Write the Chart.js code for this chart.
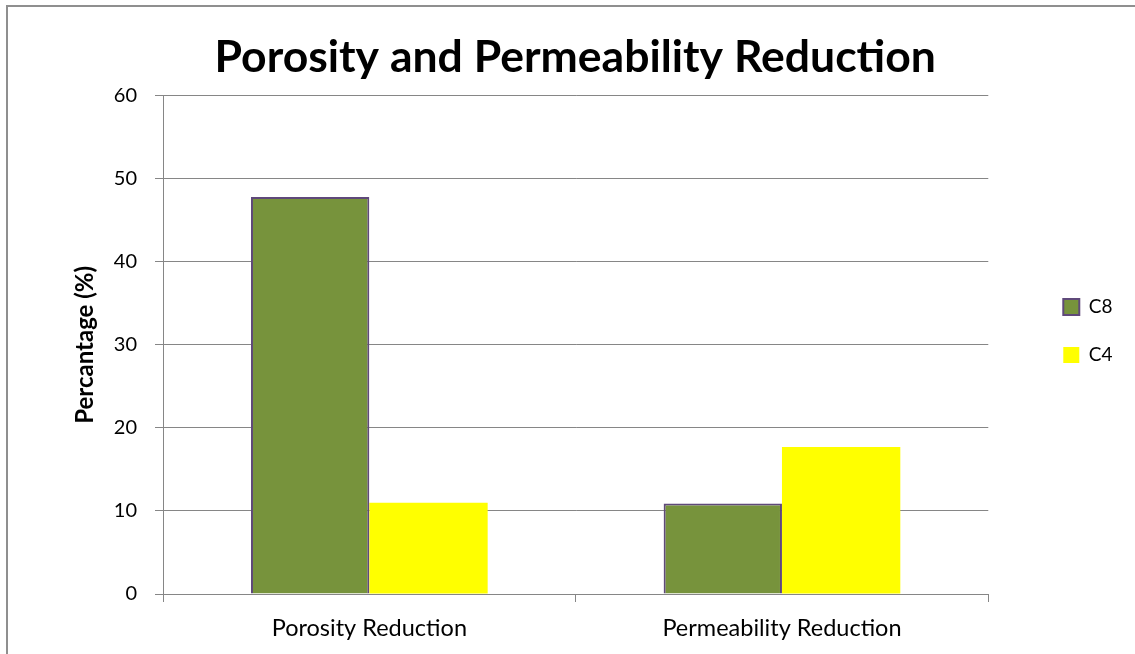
<!DOCTYPE html>
<html>
<head>
<meta charset="utf-8">
<title>Porosity and Permeability Reduction</title>
<script src="https://cdn.jsdelivr.net/npm/chart.js@4/dist/chart.umd.min.js"></script>
<style>
  html, body { margin: 0; padding: 0; background: #ffffff; overflow: hidden; }
  #wrap { position: relative; width: 1135px; height: 654px; }
</style>
</head>
<body>
<div id="wrap"><canvas id="chart" width="1135" height="654"></canvas></div>
<script>
// Categories and series
const categories = ['Porosity Reduction', 'Permeability Reduction'];
const seriesNames = ['C8', 'C4'];
const c8Values = [47.8, 10.9];
const c4Values = [11.0, 17.7];
const yTicks = [0, 10, 20, 30, 40, 50, 60];

const FONT = 'Lato, "Open Sans", "Liberation Sans", sans-serif';
const GRID = '#868686';

// White page with the thin gray frame on the left and top edges
const framePlugin = {
  id: 'frame',
  beforeDraw(chart) {
    const ctx = chart.ctx;
    ctx.save();
    ctx.fillStyle = '#ffffff';
    ctx.fillRect(0, 0, chart.width, chart.height);
    ctx.strokeStyle = '#8f8f8f';
    ctx.lineWidth = 2;
    ctx.beginPath();
    ctx.moveTo(7, chart.height);
    ctx.lineTo(7, 6);
    ctx.lineTo(chart.width, 6);
    ctx.stroke();
    ctx.restore();
  }
};

new Chart(document.getElementById('chart'), {
  type: 'bar',
  data: {
    labels: categories,
    datasets: [
      {
        label: seriesNames[0],
        data: c8Values,
        backgroundColor: '#77933C',
        borderColor: '#5F497A',
        borderWidth: 2,
        yAxisID: 'y'
      },
      {
        label: seriesNames[1],
        data: c4Values,
        backgroundColor: '#FFFF00',
        borderColor: '#FFFF00',
        borderWidth: 0,
        yAxisID: 'y'
      }
    ]
  },
  options: {
    responsive: false,
    animation: false,
    devicePixelRatio: 1,
    datasets: {
      bar: { categoryPercentage: 0.5736, barPercentage: 1 }
    },
    layout: { padding: { left: 28, right: 12.5, top: 8, bottom: 0 } },
    plugins: {
      title: {
        display: true,
        text: 'Porosity and Permeability Reduction',
        color: '#000000',
        font: { family: FONT, size: 44.5, weight: 'bold', lineHeight: 1.2 },
        padding: { top: 22.8, bottom: 11.5 }
      },
      legend: {
        display: true,
        position: 'right',
        align: 'center',
        labels: {
          color: '#000000',
          font: { family: FONT, size: 19 },
          boxWidth: 16,
          boxHeight: 16,
          padding: 29
        }
      },
      tooltip: { enabled: false }
    },
    scales: {
      x: {
        type: 'category',
        offset: true,
        grid: {
          display: true,
          offset: true,
          drawOnChartArea: false,
          drawTicks: true,
          tickLength: 8,
          color: GRID,
          lineWidth: 1
        },
        border: { display: true, color: GRID, width: 1 },
        ticks: {
          color: '#000000',
          font: { family: FONT, size: 23.5 },
          padding: 11.9,
          maxRotation: 0
        },
        afterFit(scale) { scale.height = 60; }
      },
      y: {
        type: 'linear',
        position: 'left',
        min: yTicks[0],
        max: yTicks[yTicks.length - 1],
        afterBuildTicks(scale) { scale.ticks = yTicks.map(v => ({ value: v })); },
        grid: {
          color: GRID,
          lineWidth: 1,
          drawTicks: true,
          tickLength: 8
        },
        border: { display: true, color: GRID, width: 1 },
        ticks: {
          color: '#000000',
          font: { family: FONT, size: 20 },
          padding: 18
        },
        title: {
          display: true,
          text: 'Percantage (%)',
          color: '#000000',
          font: { family: FONT, size: 24, weight: 'bold', lineHeight: 1.2 },
          padding: { top: 42.6, bottom: 0 }
        },
        afterFit(scale) { scale.width = 135; }
      },
      // empty spacer between the plot and the legend
      gap: {
        type: 'linear',
        position: 'right',
        display: true,
        grid: { display: false, drawTicks: false },
        border: { display: false },
        ticks: { display: false },
        afterFit(scale) { scale.width = 46; }
      }
    }
  },
  plugins: [framePlugin]
});
</script>
</body>
</html>
